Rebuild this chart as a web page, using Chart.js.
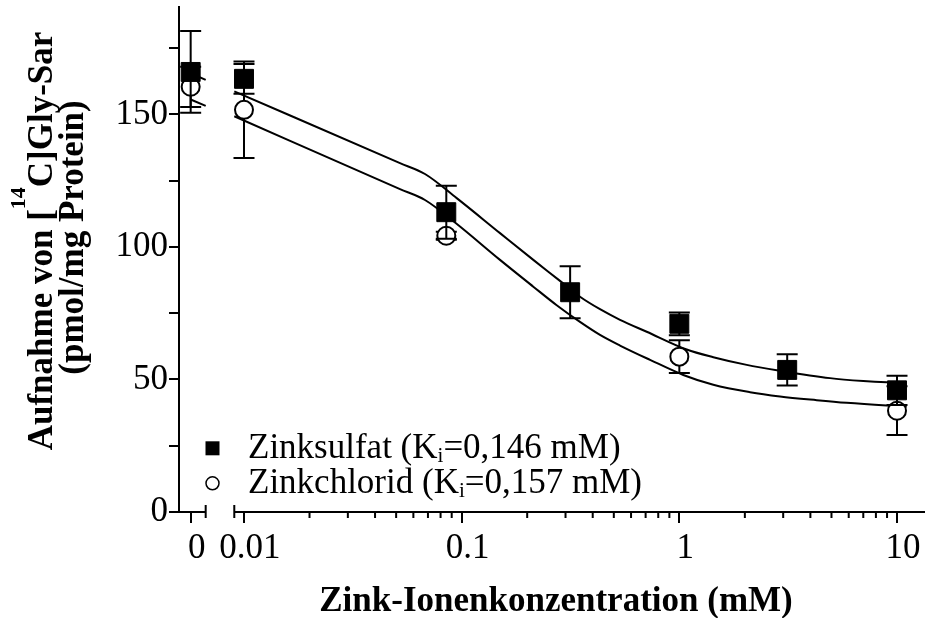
<!DOCTYPE html>
<html>
<head>
<meta charset="utf-8">
<script src="https://cdn.jsdelivr.net/npm/chart.js@4.4.0/dist/chart.umd.min.js"></script>
<style>
html,body{margin:0;padding:0;background:#fff;}
#wrap{width:925px;height:618px;}
</style>
</head>
<body>
<div id="wrap"><canvas id="c" width="925" height="618"></canvas></div>
<script>
// ---------- data ----------
const concentrations = [0, 0.01, 0.085, 0.315, 1, 3.13, 10]; // mM
const sulfatMean  = [166.0, 163.4, 113.1, 82.9, 71.0, 53.6, 45.9];
const sulfatErr   = [15.4, 5.6, 10.0, 9.8, 4.3, 5.9, 5.5];
const chloridMean = [160.4, 151.7, 104.2, null, 58.6, null, 38.2];
const chloridErr  = [7.6, 18.2, 1.5, null, 6.2, null, 9.2];

// fitted curves, x in log10(mM); null marks the axis break
const sulfatFitLogX = [-2.245, -2.176, null, -2.0446, -1.2833, -1.1685, -1.0228, -0.8239, -0.6709, -0.5483, -0.4564, -0.3645, -0.2726, -0.1499, 0.0338, 0.156, 0.3095, 0.4546, 0.6922, 0.8452, 0.9527, 1.0368];
const sulfatFitY    = [165.5, 163.0, null, 158.7, 131.6, 127.5, 118.4, 105.2, 95.1, 87.2, 81.2, 76.5, 72.5, 68.0, 61.3, 58.4, 55.5, 53.4, 50.5, 49.4, 48.9, 48.7];
const chloridFitLogX = [-2.245, -2.176, null, -2.0446, -1.2833, -1.1685, -1.0306, -0.8239, -0.6709, -0.5634, -0.4564, -0.3645, -0.2726, -0.1346, 0.0182, 0.156, 0.3247, 0.4625, 0.6311, 0.7689, 0.9527, 1.0446];
const chloridFitY    = [155.6, 153.2, null, 149.3, 121.8, 117.7, 109.2, 95.1, 85.0, 78.0, 71.7, 66.8, 62.8, 57.4, 51.7, 48.0, 45.2, 43.6, 42.2, 41.2, 40.2, 39.8];

const xTickValues = [0, 0.01, 0.1, 1, 10];
const xTickLabels = ['0', '0.01', '0.1', '1', '10'];
const yTickValues = [0, 25, 50, 75, 100, 125, 150, 175];
const yTickLabels = ['0', '', '50', '', '100', '', '150', ''];

const legendLabels = [
  {pre: 'Zinksulfat (K', sub: 'i', post: '=0,146 mM)'},
  {pre: 'Zinkchlorid (K', sub: 'i', post: '=0,157 mM)'}
];
const xTitle = 'Zink-Ionenkonzentration (mM)';
const yTitle1 = {pre: 'Aufnahme von [', sup: '14', post: 'C]Gly-Sar'};
const yTitle2 = '(pmol/mg Protein)';

// ---------- broken axis layout (log10 units) ----------
const X_MIN = -2.2986, X_MAX = 1.1286;
const ZERO_AT = -2.245;      // where concentration 0 is placed
const SEG1_END = -2.176;     // end of the "0" segment
const SEG2_START = -2.0446;  // start of the log segment
const toAxis = c => (c === 0 ? ZERO_AT : Math.log10(c));

const pts = (xs, ys) => xs.map((x, i) => ({x: x === null ? NaN : x, y: ys[i]}));
const ptsConc = (cs, ys) => cs.map((c, i) => ({x: toAxis(c), y: ys[i]}));

const FONT = 'Liberation Serif, Times New Roman, serif';

const errorBars = {
  id: 'errorBars',
  beforeDatasetDraw(chart, args) {
    const ds = chart.data.datasets[args.index];
    if (!ds.errors) return;
    const xs = chart.scales.x, ys = chart.scales.y, ctx = chart.ctx;
    ctx.save();
    ctx.strokeStyle = '#000';
    ctx.lineWidth = 2;
    ds.data.forEach((p, i) => {
      const e = ds.errors[i];
      if (p.y === null || e === null) return;
      const px = xs.getPixelForValue(p.x);
      const t = ys.getPixelForValue(p.y + e), b = ys.getPixelForValue(p.y - e);
      ctx.beginPath();
      ctx.moveTo(px, t); ctx.lineTo(px, b);
      ctx.moveTo(px - 10.5, t); ctx.lineTo(px + 10.5, t);
      ctx.moveTo(px - 10.5, b); ctx.lineTo(px + 10.5, b);
      ctx.stroke();
    });
    ctx.restore();
  }
};

const brokenAxis = {
  id: 'brokenAxis',
  afterDraw(chart) {
    const ctx = chart.ctx, xs = chart.scales.x, ca = chart.chartArea;
    const y = ca.bottom;
    const a1 = ca.left, a2 = xs.getPixelForValue(SEG1_END);
    const b1 = xs.getPixelForValue(SEG2_START), b2 = ca.right;
    ctx.save();
    ctx.strokeStyle = '#000';
    ctx.lineWidth = 2;
    ctx.beginPath();
    ctx.moveTo(a1 - 1, y); ctx.lineTo(a2, y);
    ctx.moveTo(b1, y); ctx.lineTo(b2, y);
    // break caps
    ctx.moveTo(a2, y - 7); ctx.lineTo(a2, y + 6);
    ctx.moveTo(b1, y - 7); ctx.lineTo(b1, y + 6);
    // minor log ticks
    for (let d = -2; d <= 1; d++) {
      for (let k = 2; k <= 9; k++) {
        const v = Math.log10(k) + d;
        if (v < SEG2_START || v > X_MAX) continue;
        const px = xs.getPixelForValue(v);
        ctx.moveTo(px, y); ctx.lineTo(px, y + 6);
      }
    }
    ctx.stroke();
    ctx.restore();
  }
};

const texts = {
  id: 'texts',
  afterDraw(chart) {
    const ctx = chart.ctx;
    ctx.save();
    ctx.fillStyle = '#000';
    ctx.textBaseline = 'alphabetic';

    // x title
    ctx.font = 'bold 35px ' + FONT;
    ctx.textAlign = 'center';
    ctx.fillText(xTitle, 556, 611);

    // y title (rotated)
    ctx.textAlign = 'left';
    const big = 'bold 35px ' + FONT, small = 'bold 22px ' + FONT;
    ctx.font = big;
    const w1a = ctx.measureText(yTitle1.pre).width;
    const w1c = ctx.measureText(yTitle1.post).width;
    ctx.font = small;
    const w1b = ctx.measureText(yTitle1.sup).width;
    const total1 = w1a + w1b + w1c;
    ctx.save();
    ctx.translate(52, 241);
    ctx.rotate(-Math.PI / 2);
    let cx = -total1 / 2;
    ctx.font = big; ctx.fillText(yTitle1.pre, cx, 0); cx += w1a;
    ctx.font = small; ctx.fillText(yTitle1.sup, cx, -27); cx += w1b;
    ctx.font = big; ctx.fillText(yTitle1.post, cx, 0);
    ctx.restore();

    ctx.save();
    ctx.translate(83, 237.5);
    ctx.rotate(-Math.PI / 2);
    ctx.font = big;
    ctx.textAlign = 'center';
    ctx.fillText(yTitle2, 0, 0);
    ctx.restore();

    // legend
    const lx = 212.5, rows = [448.3, 483.3], tx = 248;
    ctx.fillRect(lx - 7, rows[0] - 7, 14, 14);
    ctx.beginPath();
    ctx.lineWidth = 1.5;
    ctx.strokeStyle = '#000';
    ctx.arc(lx, rows[1], 6.5, 0, Math.PI * 2);
    ctx.stroke();
    const baselines = [458.3, 493.3];
    legendLabels.forEach((l, i) => {
      let x = tx;
      const by = baselines[i];
      ctx.font = '35px ' + FONT;
      ctx.fillText(l.pre, x, by); x += ctx.measureText(l.pre).width;
      ctx.font = '21px ' + FONT;
      ctx.fillText(l.sub, x, by + 4); x += ctx.measureText(l.sub).width;
      ctx.font = '35px ' + FONT;
      ctx.fillText(l.post, x, by);
    });
    ctx.restore();
  }
};

const fitStyle = {
  type: 'line',
  borderColor: '#000',
  borderWidth: 2,
  pointRadius: 0,
  cubicInterpolationMode: 'monotone',
  spanGaps: false,
  fill: false,
  order: 3
};

const ctx = document.getElementById('c').getContext('2d');
new Chart(ctx, {
  type: 'scatter',
  data: {
    datasets: [
      {
        label: 'Zinksulfat',
        data: ptsConc(concentrations, sulfatMean),
        errors: sulfatErr,
        pointStyle: 'rect',
        pointRadius: 13.4,
        backgroundColor: '#000',
        borderColor: '#000',
        borderWidth: 1,
        order: 1
      },
      {
        label: 'Zinkchlorid',
        data: ptsConc(concentrations, chloridMean),
        errors: chloridErr,
        pointStyle: 'circle',
        pointRadius: 9,
        backgroundColor: '#fff',
        borderColor: '#000',
        borderWidth: 2,
        order: 2
      },
      Object.assign({label: 'Fit Zinksulfat', data: pts(sulfatFitLogX, sulfatFitY)}, fitStyle),
      Object.assign({label: 'Fit Zinkchlorid', data: pts(chloridFitLogX, chloridFitY)}, fitStyle)
    ]
  },
  options: {
    responsive: false,
    animation: false,
    events: [],
    devicePixelRatio: 1,
    layout: {autoPadding: false, padding: {top: 7, left: 0, right: 0, bottom: 0}},
    plugins: {legend: {display: false}, tooltip: {enabled: false}},
    scales: {
      x: {
        type: 'linear',
        min: X_MIN,
        max: X_MAX,
        afterBuildTicks: s => { s.ticks = xTickValues.map(v => ({value: toAxis(v)})); },
        afterFit: s => { s.height = 106; s.paddingLeft = 0; s.paddingRight = 0; },
        border: {display: false},
        grid: {display: true, drawOnChartArea: false, drawTicks: true, tickLength: 11, color: '#000', lineWidth: 2},
        ticks: {
          autoSkip: false, maxRotation: 0, minRotation: 0,
          padding: 5, labelOffset: 6,
          color: '#000',
          font: {family: FONT, size: 35},
          callback: (v, i) => xTickLabels[i]
        }
      },
      y: {
        type: 'linear',
        min: 0,
        max: 190.5,
        afterBuildTicks: s => { s.ticks = yTickValues.map(v => ({value: v})); },
        afterFit: s => { s.width = 179; s.paddingTop = 0; s.paddingBottom = 0; },
        border: {display: true, color: '#000', width: 2},
        grid: {display: true, drawOnChartArea: false, drawTicks: true, tickLength: 10, color: '#000', lineWidth: 2},
        ticks: {
          padding: 1,
          color: '#000',
          font: {family: FONT, size: 35},
          callback: (v, i) => yTickLabels[i]
        }
      }
    }
  },
  plugins: [errorBars, brokenAxis, texts]
});
</script>
</body>
</html>
